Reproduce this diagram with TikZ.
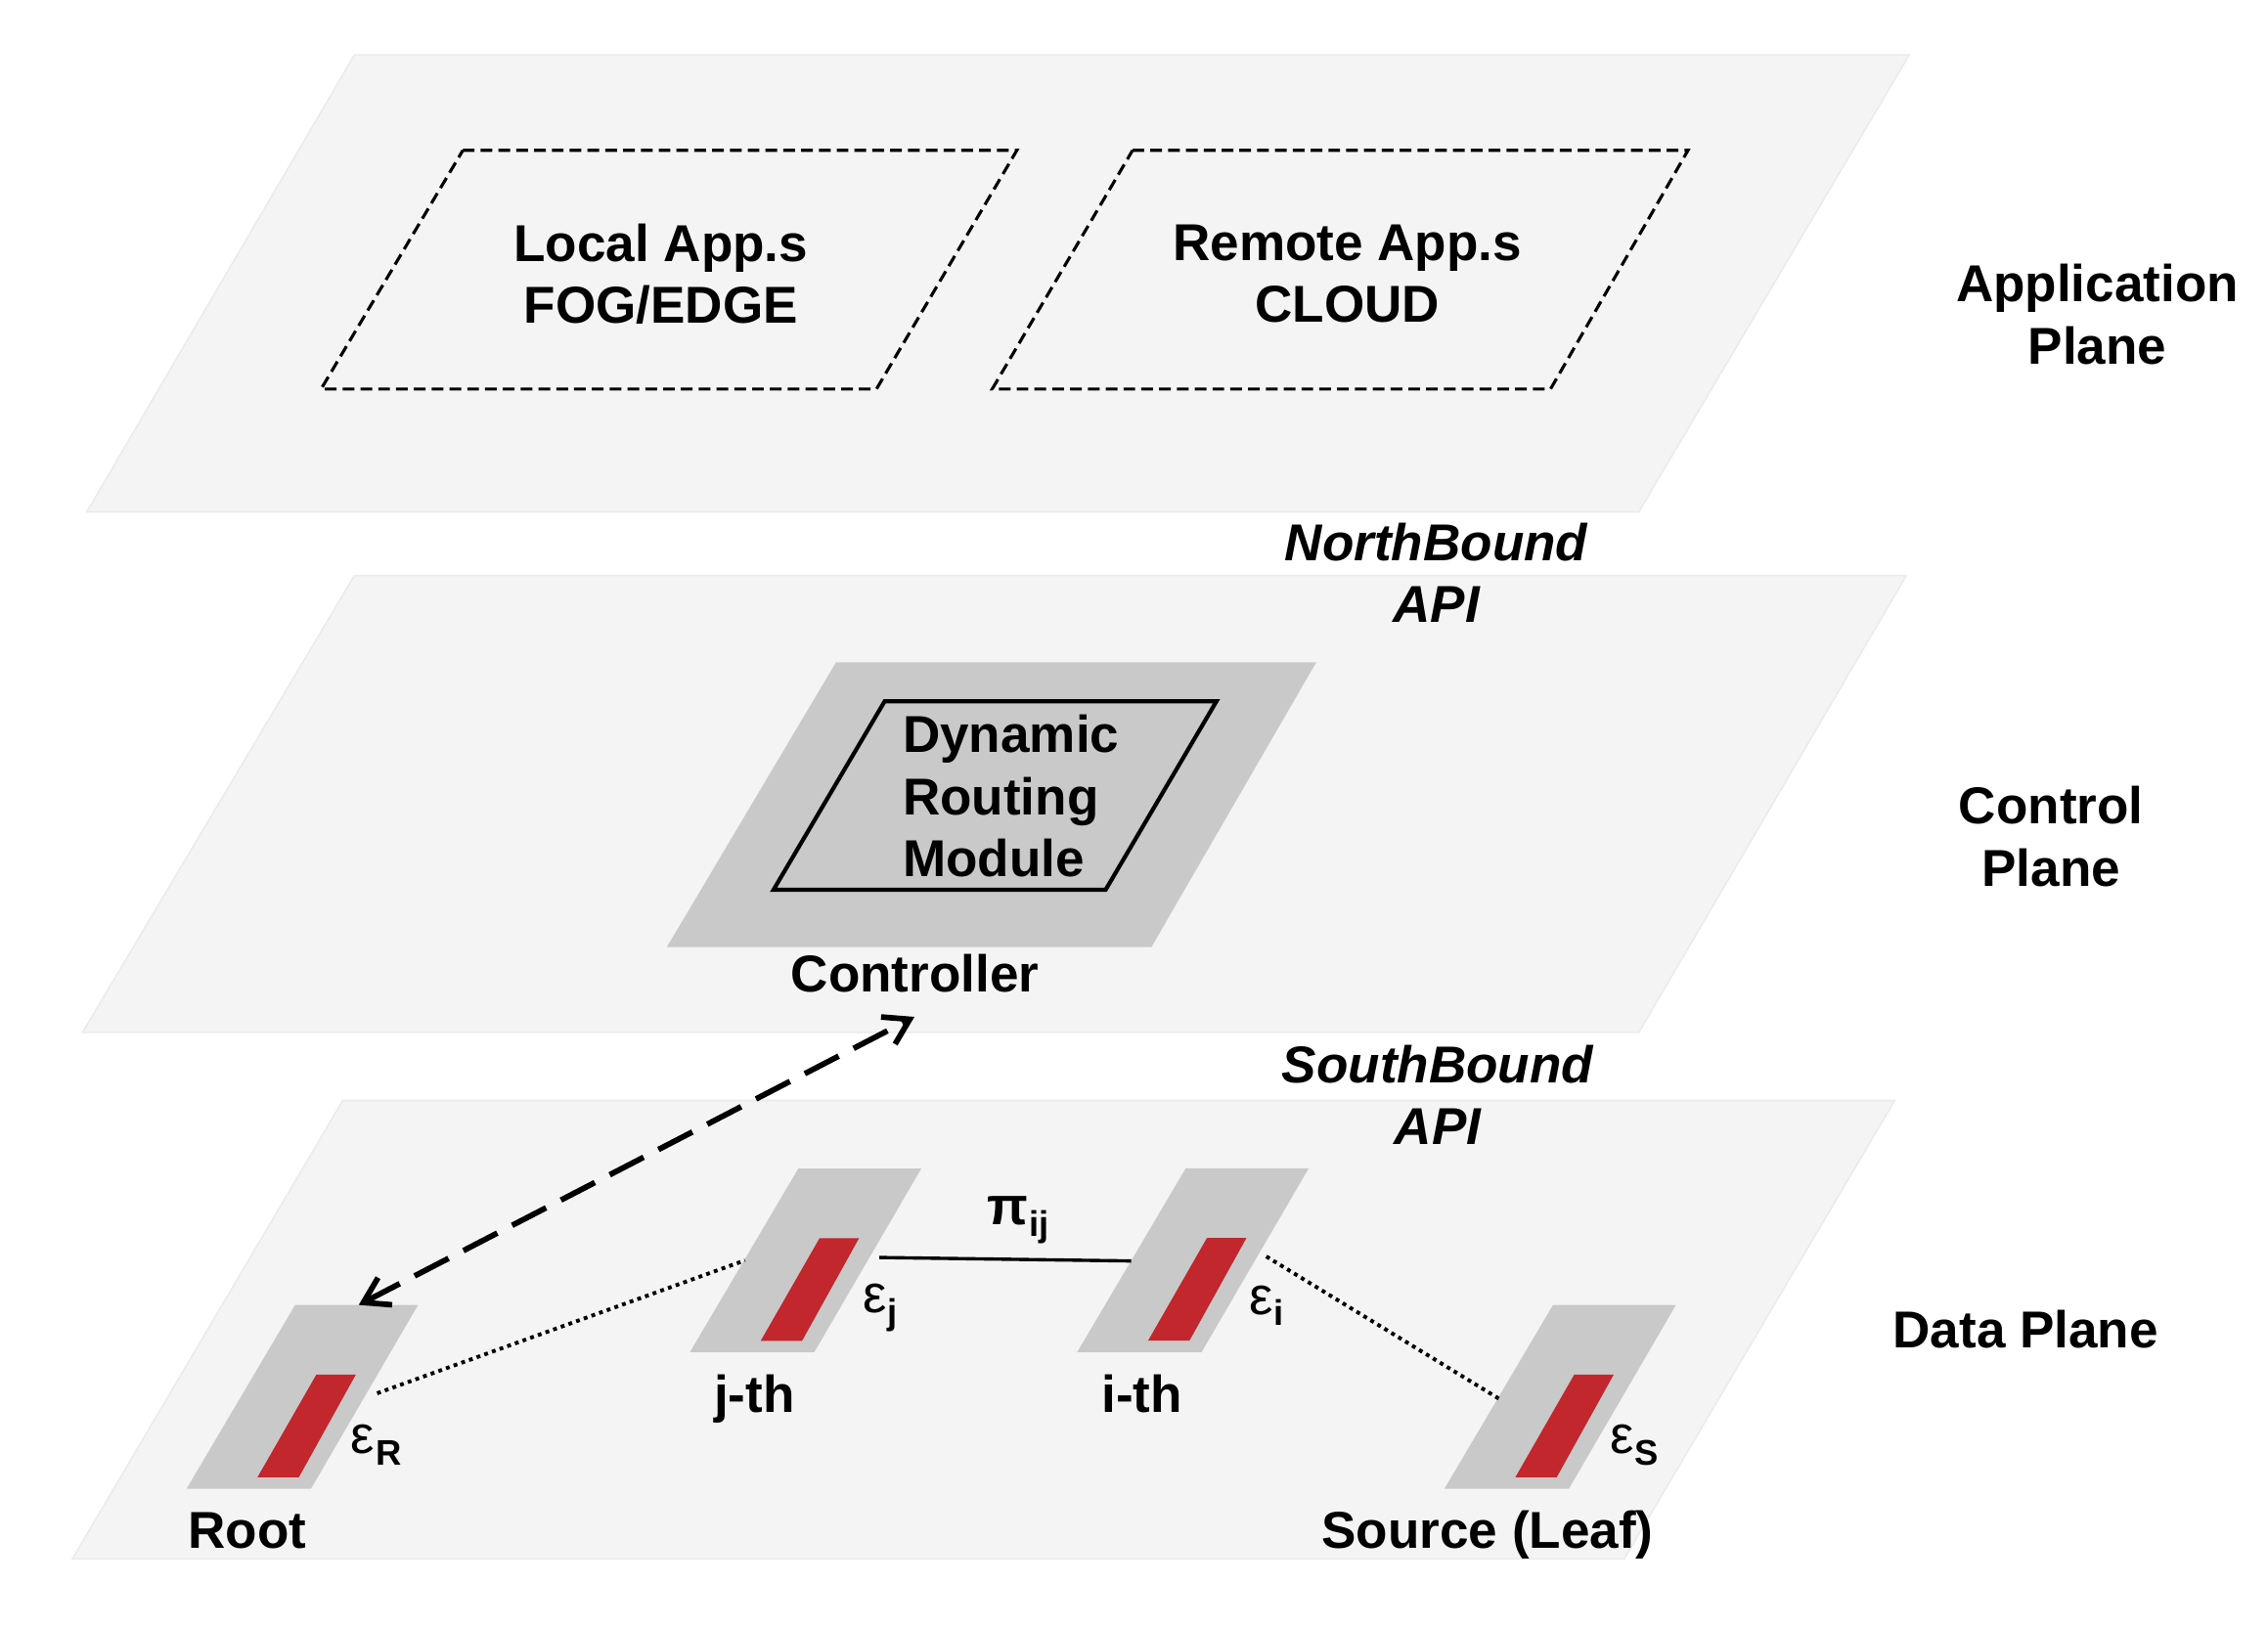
\documentclass[tikz,border=0pt]{standalone}
\usepackage{fontspec}
\setmainfont{Liberation Sans}
\usetikzlibrary{arrows.meta}
\definecolor{planefill}{HTML}{F4F4F4}
\definecolor{planeedge}{HTML}{EBEBEB}
\definecolor{tilegray}{HTML}{C9C9C9}
\definecolor{linkred}{HTML}{C1272D}
\newcommand\epslab[2]{{\fontsize{10.5}{12}\selectfont #1}\kern0.2pt\raisebox{-2.2pt}{\fontsize{7}{8}\selectfont\bfseries #2}}
\begin{document}
\begin{tikzpicture}[x=0.01cm,y=-0.01cm,
  planeshape/.style={fill=planefill, draw=planeedge, line width=0.3pt},
  appbox/.style={draw=black, dash pattern=on 2.3pt off 1.2pt, line width=0.6pt},
  ctrlshape/.style={fill=tilegray},
  drmbox/.style={draw=black, line width=0.8pt, fill=tilegray},
  lbl/.style={font=\fontsize{10.2}{12.2}\selectfont\bfseries, inner sep=0pt, align=center},
  itlbl/.style={lbl, font=\fontsize{10.2}{12.2}\selectfont\bfseries\itshape},
  epsnode/.style={inner sep=0pt, anchor=base west},
  dotlink/.style={line width=0.75pt, dash pattern=on 0.75pt off 0.85pt},
  solidlink/.style={line width=0.65pt},
  sbarrow/.style={line width=1.1pt, dash pattern=on 7.5pt off 3.3pt,
    {Straight Barb[length=4.8pt,width=6pt]}-{Straight Barb[length=4.8pt,width=6pt]}},
  switchpic/.pic={
    \fill[tilegray] (-80.25,63.5) -- (5.75,63.5) -- (79.75,-63.5) -- (-5.25,-63.5) -- cycle;
    \fill[linkred] (-31.25,55.6) -- (-2.65,55.6) -- (36.75,-15.4) -- (9.45,-15.4) -- cycle;
  },
]
\useasboundingbox (0,0) rectangle (1568,1125);

% planes
\filldraw[planeshape] (245,38) -- (1320,38) -- (1133,354) -- (60,354) -- cycle;
\filldraw[planeshape] (245,398) -- (1318,398) -- (1133,714) -- (57,714) -- cycle;
\filldraw[planeshape] (237,761) -- (1310,761) -- (1123,1078) -- (50,1078) -- cycle;

% application plane
\draw[appbox] (320,104) -- (703,104) -- (606,269) -- (222,269) -- cycle;
\draw[appbox] (783,104) -- (1167,104) -- (1072,269) -- (686,269) -- cycle;
\node[lbl] (localapp) at (457,189.5) {Local App.s\\FOG/EDGE};
\node[lbl] (remoteapp) at (931.5,189.5) {Remote App.s\\CLOUD};
\node[lbl] (applbl) at (1450,217.5) {Application\\Plane};
\node[itlbl] (nb) at (993,396) {NorthBound\\API};

% control plane
\fill[ctrlshape] (578,458) -- (910,458) -- (796,655) -- (461,655) -- cycle;
\draw[drmbox] (611.6,485) -- (841,485) -- (764.4,615.3) -- (534.8,615.3) -- cycle;
\node[lbl, align=left, anchor=west] (drm) at (623.5,550.6) {Dynamic\\Routing\\Module};
\node[lbl, anchor=base] (ctrl) at (632.5,686) {Controller};
\node[lbl] (ctrlplane) at (1418,578.5) {Control\\Plane};
\node[itlbl] (sb) at (994,757) {SouthBound\\API};

% data plane
\node[lbl, anchor=base] (dataplane) at (1400.5,932) {Data Plane};
\path (209.25,966) pic {switchpic} coordinate (root);
\path (557.2,871.6) pic {switchpic} coordinate (jth);
\path (825,871.5) pic {switchpic} coordinate (ith);
\path (1078.9,966) pic {switchpic} coordinate (src);

\node[lbl, anchor=base] (rootlbl) at (171,1071) {Root};
\node[lbl, anchor=base] (jthlbl) at (521.5,977) {j-th};
\node[lbl, anchor=base] (ithlbl) at (789.5,977) {i-th};
\node[lbl, anchor=base] (srclbl) at (1028.5,1071) {Source (Leaf)};

\node[epsnode] (epsR) at (242,1005.4) {\epslab{ε}{R}};
\node[epsnode] (epsj) at (596,908) {\epslab{ε}{j}};
\node[epsnode] (epsi) at (863,909) {\epslab{ε}{i}};
\node[epsnode] (epsS) at (1112.5,1005.4) {\epslab{ε}{S}};
\node[epsnode] (piij) at (682,847) {\epslab{\bfseries π}{ij}};

% connector ends
\coordinate (root-e) at ([shift={(51.5,-2.5)}]root);
\coordinate (jth-w) at ([shift={(-42.2,0)}]jth);
\coordinate (jth-e) at ([shift={(50.8,-2)}]jth);
\coordinate (ith-w) at ([shift={(-43,0.5)}]ith);
\coordinate (ith-e) at ([shift={(50.5,-2.6)}]ith);
\coordinate (src-w) at ([shift={(-42,1.6)}]src);
\coordinate (root-top) at ([shift={(38.75,-63.6)}]root);
\coordinate (ctrl-port) at (632.2,703.2);

\draw[dotlink] (root-e) -- (jth-w);
\draw[solidlink] (jth-e) -- (ith-w);
\draw[dotlink] (ith-e) -- (src-w);
\draw[sbarrow] (root-top) -- (ctrl-port);
\end{tikzpicture}
\end{document}
